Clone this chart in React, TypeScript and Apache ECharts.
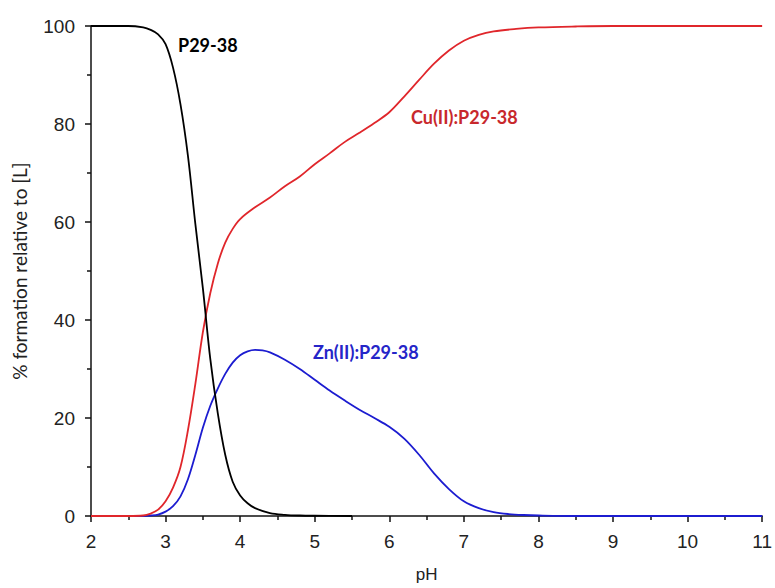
import React, { useEffect, useRef } from "react";
import * as echarts from "echarts";

// pH values and % formation for each species
const freeLigandPH = [2.0, 2.5, 2.7, 2.8, 2.9, 3.0, 3.1, 3.2, 3.3, 3.4, 3.5, 3.6, 3.7, 3.8, 3.9, 4.0, 4.1, 4.2, 4.4, 4.6, 4.8, 5.0, 5.5];
const freeLigand = [100, 100, 99.7, 99.2, 98.3, 96.3, 91.5, 84, 73.5, 59.5, 46.5, 32, 21, 12.5, 7, 4.2, 2.6, 1.6, 0.6, 0.25, 0.1, 0.05, 0];

const cuPH = [2.0, 2.5, 2.7, 2.8, 2.9, 3.0, 3.1, 3.2, 3.3, 3.4, 3.5, 3.6, 3.7, 3.8, 3.9, 4.0, 4.2, 4.4, 4.6, 4.8, 5.0, 5.2, 5.4, 5.6, 5.8, 6.0, 6.2, 6.4, 6.6, 6.8, 7.0, 7.2, 7.4, 7.7, 8.0, 8.5, 9.0, 10.0, 11.0];
const cuComplex = [0, 0, 0.1, 0.5, 1.3, 3, 5.8, 10, 17.5, 27, 37.5, 45.5, 51.5, 55.8, 58.6, 60.6, 63, 65, 67.3, 69.3, 71.8, 74, 76.3, 78.2, 80.2, 82.4, 85.6, 89, 92.3, 95, 97, 98.2, 98.9, 99.4, 99.7, 99.9, 100, 100, 100];

const znPH = [2.0, 2.5, 2.7, 2.8, 2.9, 3.0, 3.1, 3.2, 3.3, 3.4, 3.5, 3.6, 3.7, 3.8, 3.9, 4.0, 4.1, 4.2, 4.3, 4.4, 4.6, 4.8, 5.0, 5.2, 5.4, 5.6, 5.8, 6.0, 6.2, 6.4, 6.6, 6.8, 7.0, 7.2, 7.4, 7.6, 7.8, 8.0, 8.5, 9.0, 10.0, 11.0];
const znComplex = [0, 0, 0, 0.1, 0.3, 0.9, 2, 4, 7.5, 12.5, 18, 22.5, 26, 29, 31.3, 32.8, 33.6, 33.9, 33.8, 33.4, 31.9, 30, 27.8, 25.6, 23.6, 21.7, 20, 18.2, 15.8, 12.5, 8.7, 5.5, 3.0, 1.6, 0.8, 0.4, 0.2, 0.1, 0, 0, 0, 0];

const seriesNames = ["P29-38", "Cu(II):P29-38", "Zn(II):P29-38"];
const seriesColors = ["#000000", "#e0262b", "#1c1cd0"];

const pairs = (xs: number[], ys: number[]) => xs.map((x, i) => [x, ys[i]]);

export default function App() {
  const ref = useRef<HTMLDivElement>(null);
  useEffect(() => {
    if (!ref.current) return;
    const chart = echarts.init(ref.current, null, { renderer: "svg" });
    const labelFont = "Lato, 'Open Sans', sans-serif";
    const tickFont = "'Liberation Sans', Arial, sans-serif";
    const datasets = [
      pairs(freeLigandPH, freeLigand),
      pairs(cuPH, cuComplex),
      pairs(znPH, znComplex),
    ];
    chart.setOption({
      animation: false,
      backgroundColor: "#ffffff",
      grid: { left: 91, right: 9, top: 26, bottom: 67, containLabel: false },
      xAxis: {
        type: "value",
        min: 2,
        max: 11,
        interval: 1,
        name: "pH",
        nameLocation: "middle",
        nameGap: 50,
        nameTextStyle: { fontFamily: tickFont, fontSize: 17, color: "#222" },
        axisLine: { show: true, lineStyle: { color: "#111", width: 1.5 } },
        axisTick: { show: true, inside: false, length: 6, lineStyle: { color: "#111", width: 1.5 } },
        minorTick: { show: true, splitNumber: 2, length: 4, lineStyle: { color: "#111", width: 1.5 } },
        axisLabel: { fontFamily: tickFont, fontSize: 19, color: "#222", margin: 16 },
        splitLine: { show: false },
      },
      yAxis: {
        type: "value",
        min: 0,
        max: 100,
        interval: 20,
        name: "% formation relative to [L]",
        nameLocation: "middle",
        nameGap: 62,
        nameTextStyle: { fontFamily: labelFont, fontSize: 19, color: "#222" },
        axisLine: { show: true, lineStyle: { color: "#111", width: 1.5 } },
        axisTick: { show: true, inside: false, length: 6, lineStyle: { color: "#111", width: 1.5 } },
        minorTick: { show: true, splitNumber: 2, length: 4, lineStyle: { color: "#111", width: 1.5 } },
        axisLabel: { fontFamily: tickFont, fontSize: 19, color: "#222", margin: 16 },
        splitLine: { show: false },
      },
      series: datasets.map((d, i) => ({
        name: seriesNames[i],
        type: "line",
        data: d,
        smooth: 0.35,
        showSymbol: false,
        symbol: "none",
        lineStyle: { color: seriesColors[i], width: 1.8 },
        z: 3 - i,
      })),
      graphic: [
        {
          type: "text",
          left: 178,
          top: 36,
          style: { text: seriesNames[0], fill: seriesColors[0], font: "bold 18px " + labelFont },
        },
        {
          type: "text",
          left: 411,
          top: 108,
          style: { text: seriesNames[1], fill: "#c8282c", font: "bold 18px " + labelFont },
        },
        {
          type: "text",
          left: 313,
          top: 343,
          style: { text: seriesNames[2], fill: "#2525c8", font: "bold 18px " + labelFont },
        },
      ],
    });
    return () => chart.dispose();
  }, []);
  return <div ref={ref} style={{ width: 775, height: 588, position: "absolute", left: 0, top: 0 }} />;
}
